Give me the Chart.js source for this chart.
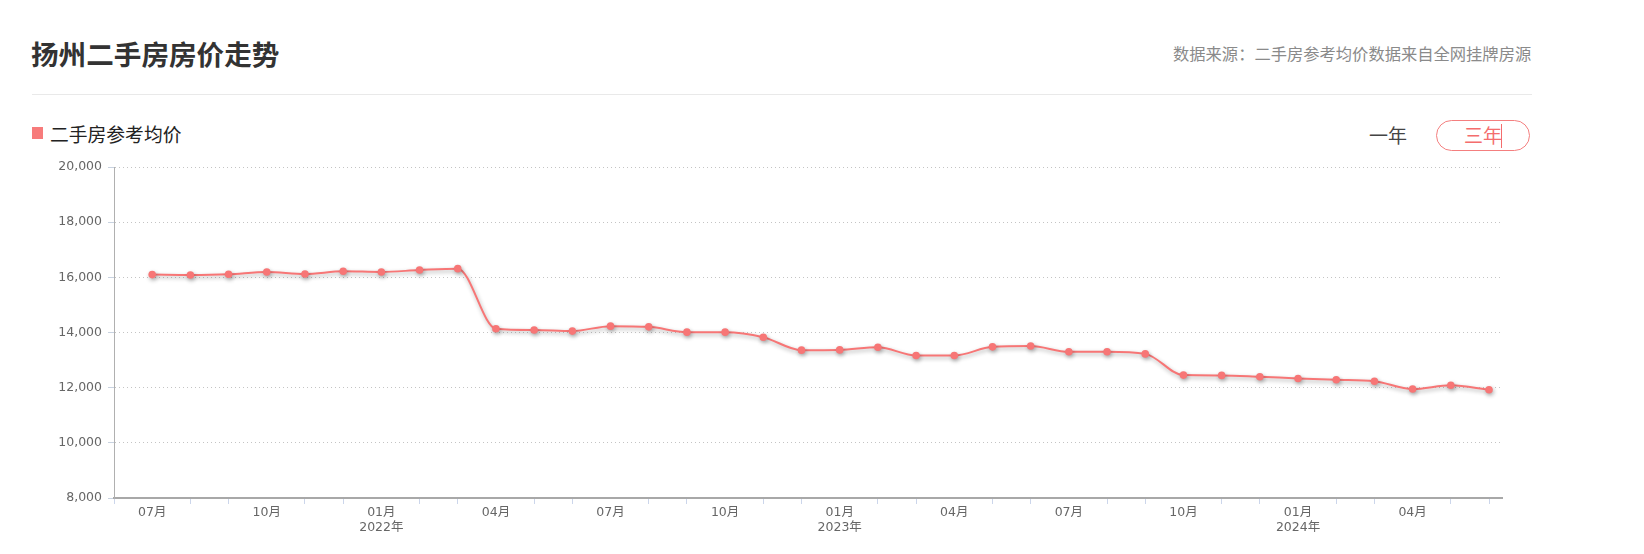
<!DOCTYPE html>
<html>
<head>
<meta charset="utf-8">
<script src="https://cdn.jsdelivr.net/npm/chart.js@4.4.1/dist/chart.umd.min.js"></script>
<style>
  html, body { margin:0; padding:0; background:#fff; }
  body { width:1644px; height:554px; position:relative; overflow:hidden;
         font-family:'Noto Sans CJK SC','Noto Sans',sans-serif; }
  .title { position:absolute; left:31px; top:34px; font-size:27.6px; font-weight:bold; color:#333; line-height:38px; white-space:nowrap; }
  .source { position:absolute; left:1173px; top:42px; font-size:16.3px; color:#8a8a8a; line-height:22px; white-space:nowrap; }
  .divider { position:absolute; left:32px; top:94px; width:1500px; height:1px; background:#e9e9e9; }
  .legend-box { position:absolute; left:32px; top:127px; width:11px; height:12px; background:#f77b7b; }
  .legend-text { position:absolute; left:50px; top:121px; font-size:18.8px; color:#222; line-height:26px; white-space:nowrap; }
  .btn1 { position:absolute; left:1369px; top:122px; font-size:19px; color:#444; line-height:26px; white-space:nowrap; }
  .btn2 { position:absolute; left:1436px; top:120px; width:92px; height:29px; border:1px solid #f47f7f; border-radius:16px; box-sizing:content-box; }
  .btn2 span { position:absolute; left:27px; top:1px; font-size:19px; color:#f46d6d; line-height:26px; white-space:nowrap; }
  .caret { position:absolute; left:1501px; top:124px; width:1px; height:24px; background:#f46d6d; }
  .chart-wrap { position:absolute; left:0; top:150px; width:1530px; height:395px; }
</style>
</head>
<body>
<div class="title">扬州二手房房价走势</div>
<div class="source">数据来源：二手房参考均价数据来自全网挂牌房源</div>
<div class="divider"></div>
<div class="legend-box"></div>
<div class="legend-text">二手房参考均价</div>
<div class="btn1">一年</div>
<div class="btn2"><span>三年</span></div>
<div class="caret"></div>
<div class="chart-wrap"><canvas id="c"></canvas></div>
<script>
// ---- data ----
const monthLabels = ['07月','08月','09月','10月','11月','12月',
                     '01月','02月','03月','04月','05月','06月',
                     '07月','08月','09月','10月','11月','12月',
                     '01月','02月','03月','04月','05月','06月',
                     '07月','08月','09月','10月','11月','12月',
                     '01月','02月','03月','04月','05月','06月'];
const yearTickIndex = [6, 18, 30];
const yearTickLabels = ['2022年','2023年','2024年'];
const seriesName = '二手房参考均价';
const priceValues = [16100,16085,16110,16195,16120,16220,
                     16195,16265,16315,14135,14090,14050,
                     14230,14205,14012,14012,13830,13360,
                     13370,13465,13165,13165,13480,13510,
                     13300,13300,13225,12455,12445,12395,
                     12335,12285,12235,11950,12085,11925];
const yTickValues = [8000,10000,12000,14000,16000,18000,20000];

const points = priceValues.map((v, i) => ({x: i, y: v}));

const shadowPlugin = {
  id: 'lineShadow',
  beforeDatasetDraw(chart) {
    const c = chart.ctx;
    c.save();
    c.shadowColor = 'rgba(0,0,0,0.32)';
    c.shadowBlur = 4;
    c.shadowOffsetX = 1;
    c.shadowOffsetY = 2;
  },
  afterDatasetDraw(chart) { chart.ctx.restore(); }
};

const tickFont = { family: "'DejaVu Sans','Noto Sans CJK SC',sans-serif", size: 12.5 };

new Chart(document.getElementById('c'), {
  type: 'line',
  data: {
    datasets: [{
      label: seriesName,
      data: points,
      borderColor: '#f77676',
      backgroundColor: '#f77676',
      borderWidth: 2,
      pointRadius: 3.8,
      pointBorderWidth: 0,
      pointBackgroundColor: '#f77676',
      cubicInterpolationMode: 'monotone',
      fill: false
    }]
  },
  plugins: [shadowPlugin],
  options: {
    responsive: true,
    maintainAspectRatio: false,
    animation: false,
    layout: { padding: { top: 17, right: 28, left: 0, bottom: 0 } },
    plugins: { legend: { display: false }, tooltip: { enabled: false } },
    scales: {
      x: {
        type: 'linear',
        min: -1,
        max: 35.34,
        afterBuildTicks(scale) {
          const t = [];
          for (let v = -1; v < monthLabels.length; v++) t.push({ value: v });
          scale.ticks = t;
        },
        afterFit(scale) { scale.height = 47; },
        ticks: {
          autoSkip: false,
          maxRotation: 0,
          minRotation: 0,
          padding: 1,
          color: '#666',
          font: tickFont,
          callback(value) {
            if (value < 0 || value % 3 !== 0) return '';
            const yi = yearTickIndex.indexOf(value);
            if (yi >= 0) return [monthLabels[value], yearTickLabels[yi]];
            return monthLabels[value];
          }
        },
        grid: {
          drawOnChartArea: false,
          drawTicks: true,
          tickLength: 6,
          tickColor: (ctx) => (ctx.tick && ctx.tick.value >= 0 && ctx.tick.value % 3 === 0) ? 'rgba(0,0,0,0)' : '#ccd6eb'
        },
        border: { display: true, color: '#a8a8a8', width: 2 }
      },
      y: {
        min: 8000,
        max: 20000,
        afterBuildTicks(scale) { scale.ticks = yTickValues.map(v => ({ value: v })); },
        afterFit(scale) { scale.width = 114; },
        ticks: {
          padding: 6,
          color: '#666',
          font: tickFont,
          callback(value) { return value.toLocaleString('en-US'); }
        },
        grid: {
          color: '#c4c4c4',
          lineWidth: 1,
          drawTicks: true,
          tickLength: 6,
          tickColor: '#c8d2e0'
        },
        border: { display: true, color: '#b0b0b0', width: 1, dash: [1, 3] }
      }
    }
  }
});
</script>
</body>
</html>
